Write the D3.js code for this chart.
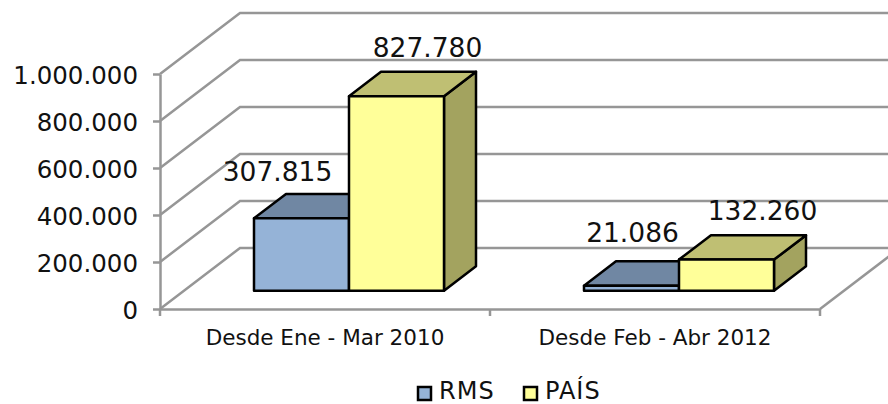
<!DOCTYPE html>
<html lang="es">
<head>
<meta charset="UTF-8"/>
<title>RMS y PAIS</title>
<script src="https://d3js.org/d3.v7.min.js"></script>
<style>
  html, body { margin: 0; padding: 0; background: #fff; }
  svg { display: block; }
  text { font-family: "DejaVu Sans", Verdana, sans-serif; fill: #111; }
  .grid { fill: none; stroke: #969696; stroke-width: 2.5; }
  .axis path, .axis line { stroke: #969696; stroke-width: 2.5; }
  .axis text { fill: #111; font-family: "DejaVu Sans", Verdana, sans-serif; }
  .face { stroke: #000; stroke-width: 2.5; stroke-linejoin: round; }
</style>
</head>
<body>
<div id="chart"></div>
<script>
var categories = ["Desde Ene - Mar 2010", "Desde Feb - Abr 2012"];
var seriesNames = ["RMS", "PAÍS"];
var rms = [307815, 21086];
var pais = [827780, 132260];
var yTicks = [0, 200000, 400000, 600000, 800000, 1000000];

var w = 888, h = 404;
var colors = {
  "RMS":  { front: "#95b3d7", top: "#7087a3", side: "#6f86a1" },
  "PAÍS": { front: "#ffff99", top: "#bfbf73", side: "#a3a35f" }
};

var depthX = 80, depthY = 61;   // how far the back wall is shifted
var x0 = d3.scaleBand().domain(categories).range([160, 820]);
var x1 = d3.scaleBand().domain(seriesNames).range([70, 260]);
var y = d3.scaleLinear().domain([0, 1000000]).range([309, 74]);
var fmt = d3.formatLocale({ decimal: ",", thousands: ".", grouping: [3], currency: ["", ""] }).format(",d");

// d = 0 front plane, d = 1 back wall
function px(xv, d) { return xv + d * depthX; }
function py(yv, d) { return yv - d * depthY; }

var svg = d3.select("#chart").append("svg").attr("width", w).attr("height", h);

// walls
var grid = svg.append("g");
yTicks.forEach(function(t) {
  grid.append("path").attr("class", "grid")
    .attr("d", "M160," + y(t) + "L" + px(160, 1) + "," + py(y(t), 1) + "L" + (w + 2) + "," + py(y(t), 1));
});
grid.append("path").attr("class", "grid")
  .attr("d", "M820," + y(0) + "L" + px(820, 1) + "," + py(y(0), 1));

// axes
svg.append("g").attr("class", "axis")
  .attr("transform", "translate(160,0)")
  .call(d3.axisLeft(y).tickValues(yTicks).tickFormat(function(d) { return fmt(d); }).tickSize(7).tickSizeOuter(0).tickPadding(15))
  .selectAll("text").style("font-size", "24.5px").attr("dy", "0.4em");

var bottom = svg.append("g").attr("class", "axis")
  .attr("transform", "translate(0," + y(0) + ")")
  .call(d3.axisBottom(x0).tickSize(0).tickPadding(21));
bottom.selectAll("text").style("font-size", "21.5px");
x0.domain().concat(["end"]).forEach(function(c, i) {
  var tx = i < categories.length ? x0(c) : x0.range()[1];
  bottom.append("line").attr("x1", tx).attr("x2", tx).attr("y1", 0).attr("y2", 7);
});

// bars, d from 0.3 to 0.7 of the depth
var d1 = 0.3, d2 = 0.7;
var labelShift = [[-40, -13], [15, -15], [-15, -19], [20, -15.6]];

function drawBar(name, i, value, k) {
  var c = colors[name];
  var xa = px(x0(categories[i]) + x1(name), d1);
  var xb = xa + x1.bandwidth();
  var base = py(y(0), d1);
  var top = py(y(value), d1);
  var ddx = (d2 - d1) * depthX, ddy = (d2 - d1) * depthY;
  var g = svg.append("g");
  g.append("path").attr("class", "face").attr("fill", c.side)
    .attr("d", "M" + xb + "," + base + "L" + (xb + ddx) + "," + (base - ddy) + "L" + (xb + ddx) + "," + (top - ddy) + "L" + xb + "," + top + "Z");
  g.append("path").attr("class", "face").attr("fill", c.top)
    .attr("d", "M" + xa + "," + top + "L" + (xa + ddx) + "," + (top - ddy) + "L" + (xb + ddx) + "," + (top - ddy) + "L" + xb + "," + top + "Z");
  g.append("rect").attr("class", "face").attr("fill", c.front)
    .attr("x", xa).attr("y", top).attr("width", xb - xa).attr("height", base - top);
  svg.append("text").attr("class", "val")
    .attr("x", (xa + xb) / 2 + ddx / 2 + labelShift[k][0])
    .attr("y", top - ddy + labelShift[k][1])
    .attr("text-anchor", "middle")
    .style("font-size", "26.5px")
    .text(fmt(value));
}

var k = 0;
categories.forEach(function(c, i) {
  drawBar("RMS", i, rms[i], k++);
  drawBar("PAÍS", i, pais[i], k++);
});
// labels stay on top of the bars
svg.selectAll("text.val").raise();

// legend
var legendX = d3.scaleOrdinal().domain(seriesNames).range([418, 524]);
var legend = svg.selectAll(".leg").data(seriesNames).enter().append("g").attr("class", "leg");
legend.append("rect")
  .attr("x", function(d) { return legendX(d); }).attr("y", 387)
  .attr("width", 13).attr("height", 13)
  .attr("fill", function(d) { return colors[d].front; })
  .attr("stroke", "#000").attr("stroke-width", 2.5);
legend.append("text")
  .attr("x", function(d) { return legendX(d) + 21; }).attr("y", 398.5)
  .style("font-size", "24px")
  .style("letter-spacing", "1px")
  .text(function(d) { return d; });
</script>
</body>
</html>
